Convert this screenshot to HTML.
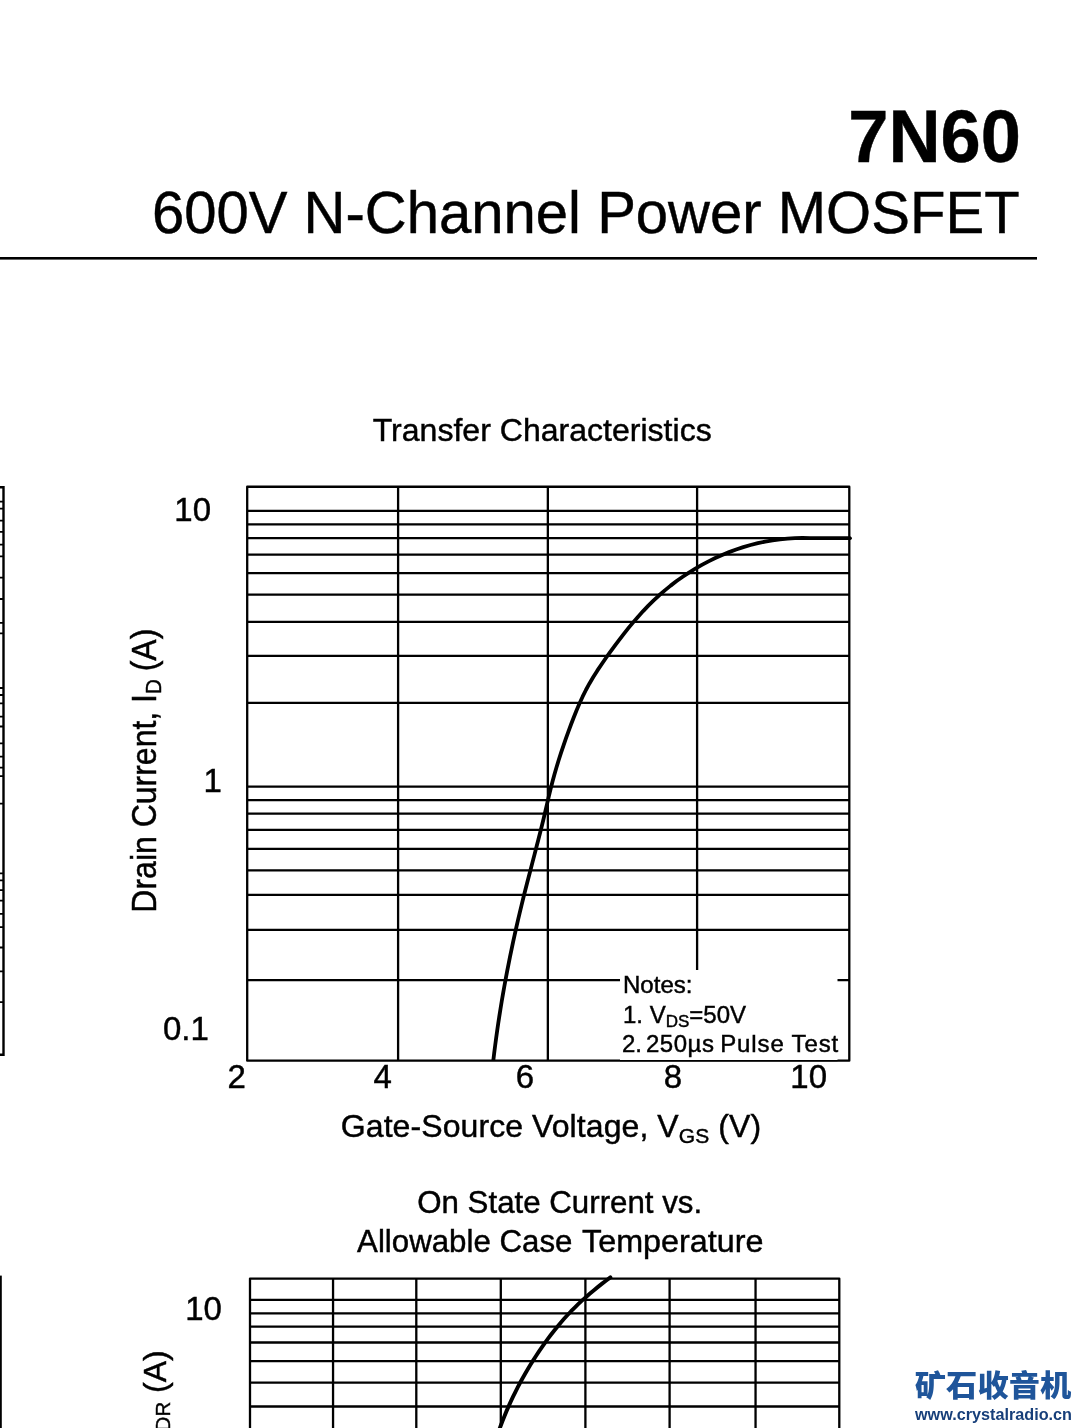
<!DOCTYPE html>
<html lang="en"><head><meta charset="utf-8"><title>7N60 600V N-Channel Power MOSFET</title>
<style>html,body{margin:0;padding:0;background:#fff}body{width:1080px;height:1428px;overflow:hidden}svg{display:block}text{font-family:"Liberation Sans",sans-serif;fill:#000;stroke:#000;stroke-width:0.45px}.cjk{font-family:"Liberation Sans","Noto Sans CJK SC",sans-serif;font-weight:900;fill:#1f559a;stroke:none}.url{font-family:"Liberation Sans",sans-serif;font-weight:bold;fill:#173f7a;stroke:none}</style></head><body>
<svg width="1080" height="1428" viewBox="0 0 1080 1428">
<rect width="1080" height="1428" fill="#fff"/>
<text x="848.3" y="162.0" font-size="73.2" textLength="172.5" lengthAdjust="spacingAndGlyphs" font-weight="bold">7N60</text>
<text x="151.9" y="232.9" font-size="59.3" textLength="867.7" lengthAdjust="spacingAndGlyphs">600V N-Channel Power MOSFET</text>
<rect x="0" y="257" width="1037" height="2.6" fill="#000"/>
<g stroke="#000" stroke-width="2.4" fill="none">
<path d="M0 487.3H3.5V1054.7H0"/>
<path d="M0 501.7H3.5M0 508.7H3.5M0 520.6H3.5M0 531.8H3.5M0 544.7H3.5M0 556.3H3.5M0 577.6H3.5M0 599H3.5M0 622.9H3.5M0 633.4H3.5M0 688H3.5M0 695H3.5M0 703.4H3.5M0 716.7H3.5M0 726.5H3.5M0 743.3H3.5M0 756.6H3.5M0 767.6H3.5M0 776.2H3.5M0 803.6H3.5M0 873.3H3.5M0 880.3H3.5M0 890.1H3.5M0 900.6H3.5M0 913.9H3.5M0 927.2H3.5M0 947.5H3.5M0 971.3H3.5M0 1002.2H3.5" stroke-width="1.8"/>
</g>
<rect x="0" y="1275.6" width="1.8" height="160" fill="#000"/>
<g stroke="#000" stroke-width="2.3" fill="none" stroke-linejoin="round">
<rect x="247.2" y="486.75" width="602.10" height="573.95"/>
<path d="M247.2 510.90H849.3M247.2 524.30H849.3M247.2 538.20H849.3M247.2 554.70H849.3M247.2 573.20H849.3M247.2 594.70H849.3M247.2 621.95H849.3M247.2 655.95H849.3M247.2 702.95H849.3M247.2 786.55H849.3M247.2 800.20H849.3M247.2 813.70H849.3M247.2 829.95H849.3M247.2 848.95H849.3M247.2 870.45H849.3M247.2 894.95H849.3M247.2 929.95H849.3M247.2 980.20H849.3M398.1 486.75V1060.7M547.85 486.75V1060.7M697.1 486.75V1060.7"/>
</g>
<path d="M493.28 1060.80L494.17 1053.33L495.11 1045.87L496.09 1038.42L497.13 1030.98L498.21 1023.54L499.34 1016.11L500.51 1008.68L501.73 1001.27L503.00 993.86L504.31 986.46L505.66 979.06L507.06 971.67L508.50 964.30L509.98 956.93L511.50 949.56L513.06 942.21L514.66 934.87L516.30 927.53L517.98 920.20L519.70 912.88L521.45 905.58L523.24 898.28L525.06 890.99L526.92 883.70L528.80 876.43L530.69 869.16L532.59 861.89L534.49 854.62L536.38 847.35L538.26 840.07L540.11 832.79L541.93 825.50L543.71 818.20L545.43 810.89L547.13 803.57L548.83 796.25L550.59 788.95L552.45 781.68L554.43 774.44L556.52 767.24L558.71 760.06L561.00 752.91L563.38 745.78L565.85 738.68L568.39 731.59L571.01 724.52L573.71 717.48L576.51 710.48L579.47 703.55L582.59 696.71L585.92 690.00L589.49 683.42L593.29 676.99L597.29 670.67L601.45 664.44L605.73 658.27L610.09 652.15L614.53 646.06L619.04 640.02L623.65 634.04L628.36 628.15L633.17 622.35L638.10 616.66L643.16 611.09L648.35 605.67L653.69 600.39L659.19 595.28L664.84 590.36L670.65 585.62L676.61 581.07L682.72 576.72L688.98 572.57L695.36 568.62L701.88 564.88L708.51 561.36L715.27 558.05L722.13 554.97L729.10 552.12L736.16 549.50L743.30 547.14L750.53 545.03L757.81 543.18L765.16 541.59L772.56 540.29L780.00 539.27L787.47 538.54L794.96 538.12L802.47 538.00L809.99 538.19L850.3 538.2" stroke="#000" stroke-width="3.8" fill="none" stroke-linejoin="round" stroke-linecap="butt"/>
<circle cx="850.2" cy="538.2" r="1.7" fill="#000"/>
<rect x="620" y="970" width="217.5" height="90" fill="#fff"/>
<path d="M620 1060.75H837.5" stroke="#000" stroke-width="1" fill="none"/>
<text x="623" y="993" font-size="24" textLength="69.5" lengthAdjust="spacingAndGlyphs">Notes:</text>
<text x="623" y="1022.5" font-size="24">1. V<tspan font-size="17" dy="4.5">DS</tspan><tspan dy="-4.5">=50V</tspan></text>
<text y="1051.75" font-size="24" letter-spacing="0.55"><tspan x="622" letter-spacing="0">2.</tspan> <tspan x="645.9">250µs</tspan> <tspan x="720.2" letter-spacing="0.9">Pulse</tspan> <tspan x="791.5" letter-spacing="0.9">Test</tspan></text>
<text x="174.3" y="521.3" font-size="33">10</text>
<text x="203.6" y="792.2" font-size="33">1</text>
<text x="163" y="1040.2" font-size="33">0.1</text>
<text x="236.6" y="1087.5" font-size="33" text-anchor="middle">2</text>
<text x="382.75" y="1087.5" font-size="33" text-anchor="middle">4</text>
<text x="525" y="1087.5" font-size="33" text-anchor="middle">6</text>
<text x="673" y="1087.5" font-size="33" text-anchor="middle">8</text>
<text x="808.7" y="1087.5" font-size="33" text-anchor="middle">10</text>
<text x="372.7" y="441" font-size="32.1" textLength="339" lengthAdjust="spacingAndGlyphs">Transfer Characteristics</text>
<text x="340.8" y="1136.6" font-size="32" letter-spacing="0.08">Gate-Source Voltage, V<tspan font-size="21" dy="6">GS</tspan><tspan dy="-6"> (V)</tspan></text>
<text transform="translate(155.9 912.65) rotate(-90) scale(1 1.069)" font-size="32">Drain Current, I<tspan font-size="20.5" dy="4.4">D</tspan><tspan dy="-4.4" dx="-1"> (A)</tspan></text>
<g stroke="#000" stroke-width="2.3" fill="none" stroke-linejoin="round">
<path d="M250.0 1440V1278.55H839.3V1440"/>
<path d="M250.0 1299.9H839.3M250.0 1313.35H839.3M250.0 1326.65H839.3M250.0 1342.5H839.3M250.0 1361.2H839.3M250.0 1382.6H839.3M250.0 1406.5H839.3M333.05 1278.55V1440M416.3 1278.55V1440M500.8 1278.55V1440M585.4 1278.55V1440M669.6 1278.55V1440M755.55 1278.55V1440"/>
</g>
<path d="M610.41 1277.39L606.23 1280.50L602.09 1283.67L598.00 1286.89L593.97 1290.17L589.99 1293.51L586.07 1296.92L582.22 1300.39L578.44 1303.93L574.73 1307.54L571.09 1311.22L567.54 1314.98L564.07 1318.80L560.68 1322.70L557.36 1326.67L554.11 1330.69L550.93 1334.78L547.82 1338.92L544.77 1343.11L541.78 1347.35L538.85 1351.63L535.98 1355.97L533.17 1360.34L530.43 1364.76L527.75 1369.21L525.13 1373.71L522.58 1378.24L520.10 1382.80L517.68 1387.40L515.33 1392.04L513.05 1396.70L510.83 1401.39L508.69 1406.11L506.62 1410.86L504.63 1415.63L502.71 1420.43L500.87 1425.26L499.13 1430.12L497.47 1435.00L495.92 1439.92" stroke="#000" stroke-width="3.9" fill="none" stroke-linejoin="round" stroke-linecap="round"/>
<text x="185.2" y="1319.5" font-size="33">10</text>
<text x="417.2" y="1212.8" font-size="32.1" textLength="285" lengthAdjust="spacingAndGlyphs">On State Current vs.</text>
<text y="1251.5" font-size="32.1"><tspan x="357.1" textLength="215.3" lengthAdjust="spacingAndGlyphs">Allowable Case</tspan> <tspan x="582.1" textLength="181.3" lengthAdjust="spacingAndGlyphs">Temperature</tspan></text>
<text transform="translate(165.9 1440.3) rotate(-90)" font-size="32">I<tspan font-size="20.5" dy="4.4">DR</tspan><tspan dy="-4.4"> (A)</tspan></text>
<text x="914.8" y="1396.2" font-size="29.5" textLength="156.5" lengthAdjust="spacingAndGlyphs" class="cjk">矿石收音机</text>
<text x="915" y="1420.4" font-size="16.5" textLength="157" lengthAdjust="spacingAndGlyphs" class="url">www.crystalradio.cn</text>
</svg></body></html>
